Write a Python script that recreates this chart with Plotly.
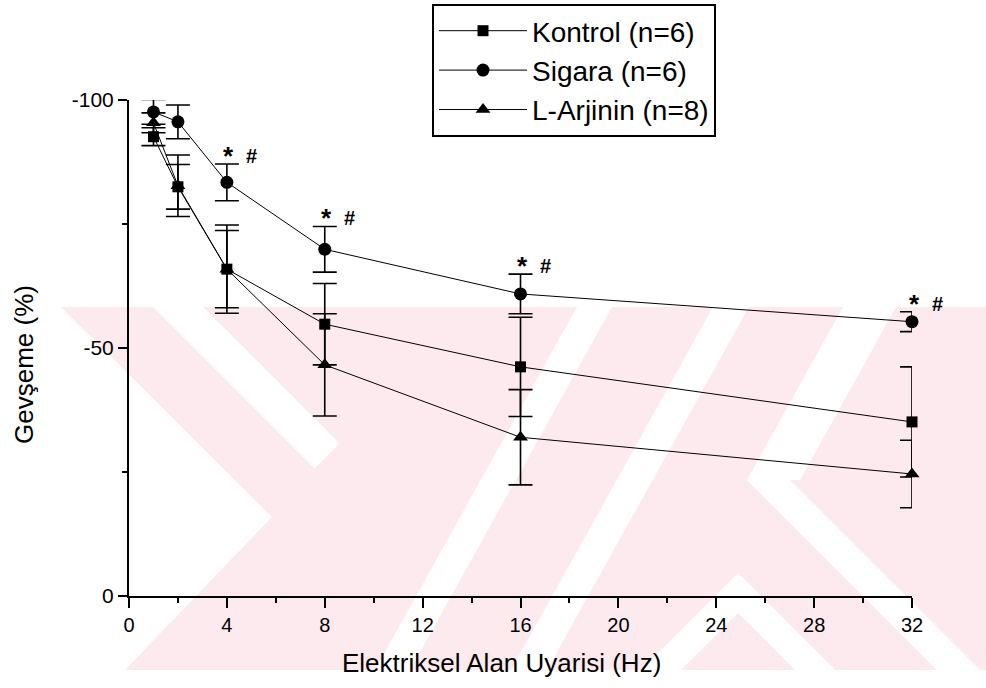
import plotly.graph_objects as go

# ---- data ----
freq_hz = [1, 2, 4, 8, 16, 32]
series_names = ["Kontrol (n=6)", "Sigara (n=6)", "L-Arjinin (n=8)"]
kontrol_mean = [-92.6, -82.5, -65.9, -54.8, -46.2, -35.1]
kontrol_sem = [1.8, 4.5, 7.8, 8.2, 10.0, 11.1]
sigara_mean = [-97.6, -95.6, -83.4, -69.9, -60.9, -55.3]
sigara_sem = [2.5, 3.4, 3.7, 4.6, 4.0, 2.0]
arjinin_mean = [-95.4, -82.7, -65.9, -46.6, -32.0, -24.6]
arjinin_sem = [2.0, 6.2, 8.9, 10.3, 9.6, 6.8]
signif_index = [2, 3, 4, 5]          # Sigara points marked with * and #
x_tickvals = [0, 4, 8, 12, 16, 20, 24, 28, 32]
y_tickvals = [-100, -50, 0]
y_ticktext = ["-100", "-50", "0"]

FONT = "Liberation Sans, Arial, Helvetica, sans-serif"

# figure geometry (pixels)
W, H = 986, 688
ML, MR, MT, MB = 129, 74, 100, 92
PW, PH = W - ML - MR, H - MT - MB


def px2paper(px, py):
    return (px - ML) / PW, (MT + PH - py) / PH


def path_from_px(points):
    pts = [px2paper(x, y) for x, y in points]
    return "M " + " L ".join(f"{x:.4f},{y:.4f}" for x, y in pts) + " Z"


fig = go.Figure()

styles = [
    dict(symbol="square", size=11),
    dict(symbol="circle", size=13),
    dict(symbol="triangle-up", size=13),
]
means = [kontrol_mean, sigara_mean, arjinin_mean]
sems = [kontrol_sem, sigara_sem, arjinin_sem]

for name, m, s, st in zip(series_names, means, sems, styles):
    fig.add_trace(go.Scatter(
        x=freq_hz, y=m, name=name, mode="lines+markers",
        line=dict(color="black", width=1),
        marker=dict(color="black", symbol=st["symbol"], size=st["size"]),
        error_y=dict(type="data", array=s, visible=True, color="black",
                     thickness=1.6, width=12),
        cliponaxis=False,
    ))

# significance marks above Sigara points
for i in signif_index:
    ytop = sigara_mean[i] - sigara_sem[i]
    fig.add_annotation(x=freq_hz[i], y=ytop, text="<b>*</b>", showarrow=False,
                       xshift=2, yshift=8, yanchor="middle",
                       font=dict(family=FONT, size=26, color="black"))
    fig.add_annotation(x=freq_hz[i], y=ytop, text="<b>#</b>", showarrow=False,
                       xshift=25, yshift=8, yanchor="middle",
                       font=dict(family=FONT, size=20, color="black"))

# axis titles
fig.add_annotation(xref="paper", yref="paper", x=px2paper(501, 0)[0],
                   y=px2paper(0, 663)[1], text="Elektriksel Alan Uyarisi (Hz)",
                   showarrow=False, xanchor="center", yanchor="middle",
                   font=dict(family=FONT, size=26, color="black"))
fig.add_annotation(xref="paper", yref="paper", x=px2paper(24, 0)[0],
                   y=px2paper(0, 365)[1], text="Gevşeme (%)", textangle=-90,
                   showarrow=False, xanchor="center", yanchor="middle",
                   font=dict(family=FONT, size=26, color="black"))

# ---- faint watermark background (decoration) ----
PINK = "rgb(253,234,238)"
shapes = []
shapes.append(dict(type="path", xref="paper", yref="paper", layer="below",
                   path=path_from_px([(61, 307), (986, 307), (986, 670), (61, 670)]),
                   fillcolor=PINK, line=dict(width=0)))
white_polys = [
    [(61, 307), (272, 517), (125, 670), (61, 670)],
    [(153, 307), (203, 307), (339.5, 443.5), (314.5, 468.5)],
    [(577, 307), (612, 307), (410, 670), (375, 670)],
    [(713, 307), (749, 307), (547, 670), (511, 670)],
    [(843, 307), (896, 307), (800, 480), (747, 480)],
    [(747, 480), (790, 480), (980, 670), (937, 670)],
    [(738, 573), (835, 670), (795, 670), (738, 613), (681, 670), (641, 670)],
]
for poly in white_polys:
    shapes.append(dict(type="path", xref="paper", yref="paper", layer="below",
                       path=path_from_px(poly), fillcolor="white",
                       line=dict(width=0)))

fig.update_layout(
    width=W, height=H,
    margin=dict(l=ML, r=MR, t=MT, b=MB, autoexpand=False),
    paper_bgcolor="white", plot_bgcolor="rgba(0,0,0,0)",
    font=dict(family=FONT, size=20, color="black"),
    shapes=shapes,
    showlegend=True,
    legend=dict(
        xref="container", yref="container",
        x=432 / W, y=1 - 4 / H, xanchor="left", yanchor="top",
        bgcolor="white", bordercolor="black", borderwidth=2,
        font=dict(family=FONT, size=28, color="black"),
        itemwidth=88, tracegroupgap=0,
    ),
    xaxis=dict(
        range=[0, 32], tickvals=x_tickvals, ticks="outside", ticklen=10,
        tickwidth=2, tickcolor="black", showline=True, linecolor="black",
        linewidth=2, showgrid=False, zeroline=False, tickangle=0,
        tickfont=dict(family=FONT, size=20, color="black"),
        minor=dict(dtick=2, tick0=0, ticks="outside", ticklen=5, tickwidth=2,
                   tickcolor="black", showgrid=False),
    ),
    yaxis=dict(
        range=[0, -100], tickvals=y_tickvals, ticktext=y_ticktext,
        ticks="outside", ticklen=9, tickwidth=2, tickcolor="black",
        showline=True, linecolor="black", linewidth=2, showgrid=False,
        zeroline=False, tickfont=dict(family=FONT, size=21, color="black"),
        minor=dict(tickvals=[-75, -25], ticks="outside", ticklen=5,
                   tickwidth=2, tickcolor="black", showgrid=False),
    ),
)

fig.write_html("out.html")
